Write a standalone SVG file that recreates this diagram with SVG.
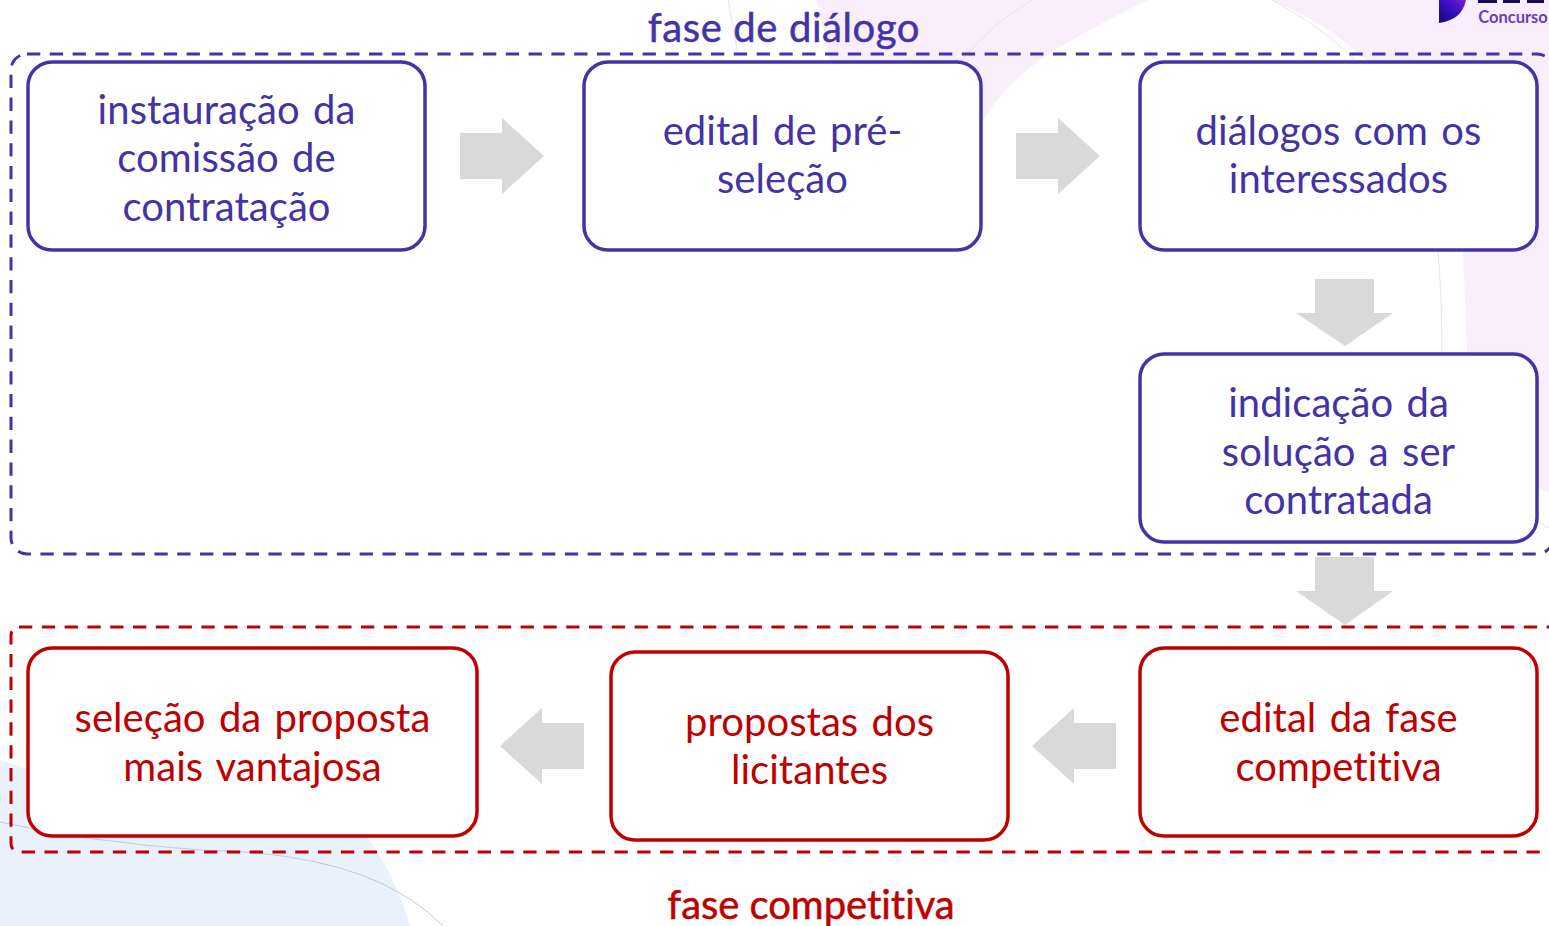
<svg xmlns="http://www.w3.org/2000/svg" width="1549" height="926" viewBox="0 0 1549 926">
<defs>
<linearGradient id="logo" x1="0" y1="1" x2="1" y2="0"><stop offset="0" stop-color="#12087a"/><stop offset="0.6" stop-color="#3a12c5"/><stop offset="1" stop-color="#8a1fd0"/></linearGradient>
</defs>
<style>
text{font-family:Lato,"Open Sans","Liberation Sans",sans-serif;font-size:40px;text-anchor:middle;letter-spacing:.05px;word-spacing:3px}
.b{fill:#fff;stroke-width:3.5}
.p rect{stroke:#4433a5}.p text{fill:#4433a5}
.r rect{stroke:#c00000}.r text{fill:#c00000}
.a{fill:#d9d9d9}
.d{fill:none;stroke-width:3;stroke-dasharray:13.300 9.500}
.p .t{stroke:#4433a5;stroke-width:.5;letter-spacing:.6px;word-spacing:0}
.r .t{stroke:#c00000;stroke-width:.5;letter-spacing:-.05px;word-spacing:0}
</style>
<rect width="1549" height="926" fill="#fff"/>
<g id="background">
<path d="M817 0H1549V493L1537 486L1470 450L1467 350L1463 250Q1440 140 1368 62Q1330 25 1272 0H1148Q1080 33 1040 60Q1005 85 983 120L975 150L830 62Z" fill="#f8eefc"/>
<path d="M0 760L30 770L100 800L367 837Q395 875 410 926H0Z" fill="#e9f1fc"/>
<path d="M0 822Q90 842 200 850Q330 852 400 893Q425 908 443 926" fill="none" stroke="#c4c8da" stroke-width="1"/>
<path d="M1438 250Q1442 300 1442 355M1538 522L1549 528" fill="none" stroke="#e5e5e5"/>
<path d="M1272 0Q1320 25 1355 60M1032 0Q990 25 962 60M728 0L738 54" fill="none" stroke="#e8e2ee"/>
<path d="M1439 0H1466Q1462 20 1439 23Z" fill="url(#logo)"/>
<path d="M1478 0H1497V3H1478ZM1503 0H1520V3H1503ZM1527 0H1544V3H1527Z" fill="#1a0a5c"/>
<text x="1513" y="23" style="font-size:16.500px;font-weight:700;fill:#6b3fb5;letter-spacing:0;word-spacing:0">Concurso</text>
</g>
<g id="connectors" class="a">
<path d="M460 133H502V118L544 156L502 194V179H460Z"/>
<path d="M1016 133H1058V118L1100 156L1058 194V179H1016Z"/>
<path d="M1315 279H1374V313H1393L1345 346L1296 313H1315Z"/>
<path d="M1315 557H1374V591H1393L1345 625L1296 591H1315Z"/>
<path d="M1116 723H1074V708L1032 746L1074 784V769H1116Z"/>
<path d="M584 723H542V708L500 746L542 784V769H584Z"/>
</g>
<g id="fase-dialogo" class="p">
<rect class="d" x="11" y="54" width="1542" height="500" rx="16"/>
<text class="t" x="784" y="42">fase de diálogo</text>
</g>
<g id="fase-competitiva" class="r">
<rect class="d" x="11" y="627" width="1560" height="225" rx="8"/>
<text class="t" x="811" y="919">fase competitiva</text>
</g>
<g id="n1" class="p"><rect class="b" x="28" y="62" width="397" height="188" rx="24"/><text x="226.500" y="124">instauração da</text><text x="226.500" y="172">comissão de</text><text x="226.500" y="221">contratação</text></g>
<g id="n2" class="p"><rect class="b" x="584" y="62" width="397" height="188" rx="24"/><text x="782.500" y="145">edital de pré-</text><text x="782.500" y="193">seleção</text></g>
<g id="n3" class="p"><rect class="b" x="1140" y="62" width="397" height="188" rx="24"/><text x="1338.500" y="145">diálogos com os</text><text x="1338.500" y="193">interessados</text></g>
<g id="n4" class="p"><rect class="b" x="1140" y="354" width="397" height="188" rx="24"/><text x="1338.500" y="417">indicação da</text><text x="1338.500" y="466">solução a ser</text><text x="1338.500" y="514">contratada</text></g>
<g id="n5" class="r"><rect class="b" x="1140" y="648" width="397" height="188" rx="24"/><text x="1338.500" y="732">edital da fase</text><text x="1338.500" y="781">competitiva</text></g>
<g id="n6" class="r"><rect class="b" x="611" y="652" width="397" height="188" rx="24"/><text x="809.500" y="736">propostas dos</text><text x="809.500" y="784">licitantes</text></g>
<g id="n7" class="r"><rect class="b" x="28" y="648" width="449" height="188" rx="24"/><text x="252.500" y="732">seleção da proposta</text><text x="252.500" y="781">mais vantajosa</text></g>
</svg>
